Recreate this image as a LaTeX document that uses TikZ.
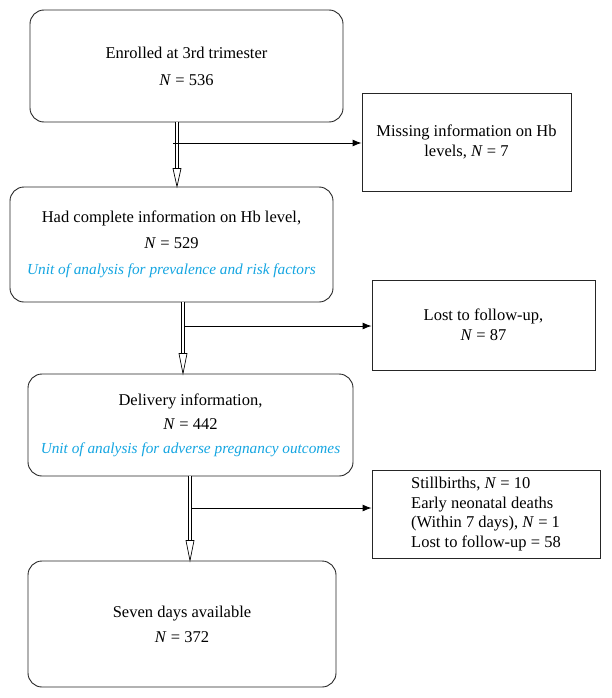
\documentclass[tikz,border=0pt]{standalone}
\usepackage{fontspec}
\setmainfont{Liberation Serif}
\usetikzlibrary{arrows.meta,calc,positioning}
\definecolor{unitblue}{RGB}{20,165,225}
\tikzset
{
    flowbox/.style = {rectangle, rounded corners=14pt, draw=black!85,
                      line width=0.9pt, align=center, inner sep=0pt,
                      font=\fontsize{16.5}{20}\selectfont},
    sidebox/.style = {rectangle, draw=black!85, line width=0.9pt,
                      align=center, inner sep=0pt,
                      font=\fontsize{16.5}{19.5}\selectfont},
    hollow/.style = {double=white, double distance=2.6pt, line width=0.7pt},
    hollowhead/.style = {draw, fill=white, line width=0.7pt},
    sidearrow/.style = {-{Latex[length=9pt,width=7pt]}, line width=0.9pt}
}
\newcommand{\unittext}[1]{{\color{unitblue}\fontsize{15.3}{20}\selectfont\itshape #1}}

\begin{document}
\begin{tikzpicture}[x=1pt, y=-1pt]
    \useasboundingbox (0,0) rectangle (611,698);

    % main column
    \node[flowbox, minimum width=313pt, minimum height=112pt] (enrolled) at (186.5,66)
        {Enrolled at 3rd trimester\\[7pt] \textit{N} = 536};
    \node[flowbox, minimum width=323pt, minimum height=115pt] (complete) at (171.5,244.5)
        {Had complete information on Hb level,\\[6pt] \textit{N} = 529\\[6pt]
         \unittext{Unit of analysis for prevalence and risk factors}};
    \node[flowbox, minimum width=325pt, minimum height=102pt] (delivery) at (190.5,425)
        {Delivery information,\\[4pt] \textit{N} = 442\\[4pt]
         \unittext{Unit of analysis for adverse pregnancy outcomes}};
    \node[flowbox, minimum width=308pt, minimum height=126pt] (seven) at (182,624)
        {Seven days available\\[5pt] \textit{N} = 372};

    % exclusions
    \node[sidebox, minimum width=209pt, minimum height=98pt] (missing) at (466.5,142)
        {Missing information on Hb\\ levels, \textit{N} = 7};
    \node[sidebox, minimum width=223pt, minimum height=90pt] (lost) at (483.5,325)
        {Lost to follow-up,\\ \textit{N} = 87};
    \node[sidebox, minimum width=228pt, minimum height=88pt, align=left] (excluded) at (486,514)
        {Stillbirths, \textit{N} = 10\\ Early neonatal deaths\\
         (Within 7 days), \textit{N} = 1\\ Lost to follow-up = 58};

    % hollow down arrows
    \coordinate (a1) at (177,0);
    \coordinate (a2) at (183,0);
    \coordinate (a3) at (190,0);
    \coordinate (t1) at (complete.north -| a1);
    \coordinate (t2) at (delivery.north -| a2);
    \coordinate (t3) at (seven.north -| a3);
    \draw[hollow] (enrolled.south -| a1) -- ($(t1)+(0,-17)$);
    \draw[hollowhead] ($(t1)+(-4,-18)$) -- (t1) -- ($(t1)+(4,-18)$) -- cycle;
    \draw[hollow] (complete.south -| a2) -- ($(t2)+(0,-19)$);
    \draw[hollowhead] ($(t2)+(-4,-20)$) -- (t2) -- ($(t2)+(4,-20)$) -- cycle;
    \draw[hollow] (delivery.south -| a3) -- ($(t3)+(0,-19)$);
    \draw[hollowhead] ($(t3)+(-4,-20)$) -- (t3) -- ($(t3)+(4,-20)$) -- cycle;

    % side arrows
    \coordinate (h1) at (173,143);
    \coordinate (h2) at (185,326);
    \coordinate (h3) at (192,508);
    \draw[sidearrow] (h1) -- (h1 -| missing.west);
    \draw[sidearrow] (h2) -- (h2 -| lost.west);
    \draw[sidearrow] (h3) -- (h3 -| excluded.west);
\end{tikzpicture}
\end{document}
